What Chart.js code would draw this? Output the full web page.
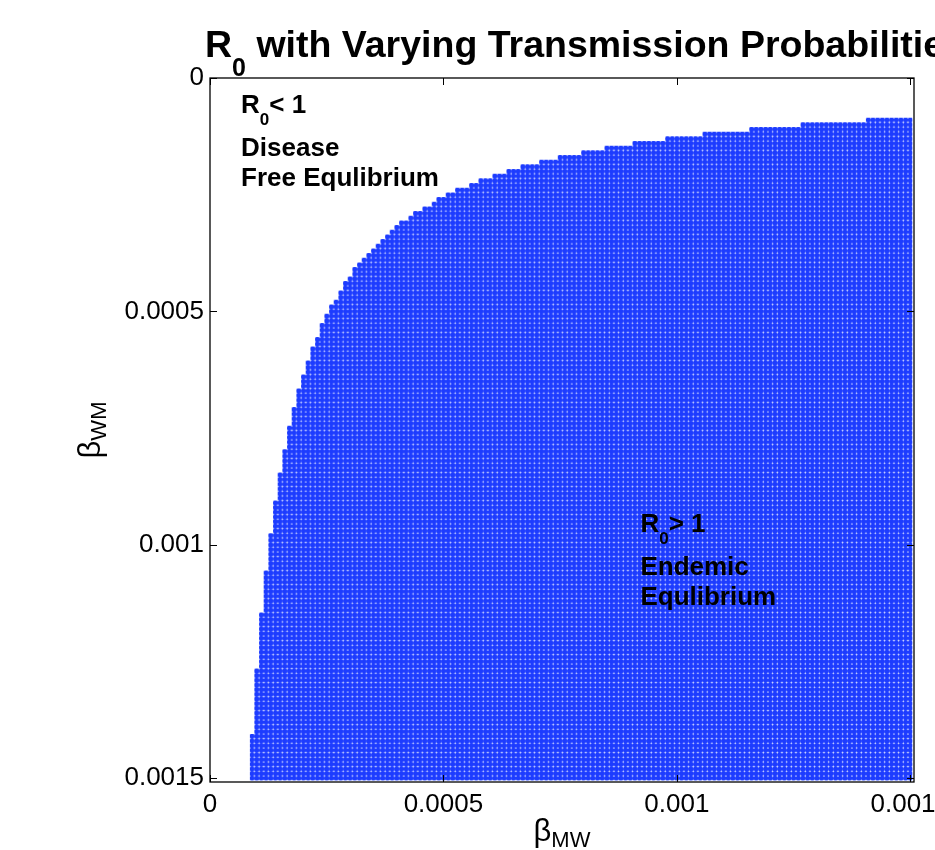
<!DOCTYPE html>
<html>
<head>
<meta charset="utf-8">
<script src="https://cdn.jsdelivr.net/npm/chart.js@4.4.1/dist/chart.umd.min.js"></script>
<style>
  html, body { margin: 0; padding: 0; background: #fff; }
  canvas { display: block; }
</style>
</head>
<body>
<canvas id="r0Chart" width="935" height="850"></canvas>
<script>
// each entry: first beta_MW column of a step, and the smallest beta_WM with R0 > 1 in it
var betaMW = [0.00009, 0.0001, 0.00011, 0.00012, 0.00013, 0.00014, 0.00015, 0.00016, 0.00017, 0.00018,
  0.00019, 0.0002, 0.00021, 0.00022, 0.00023, 0.00024, 0.00025, 0.00026, 0.00027, 0.00028,
  0.00029, 0.0003, 0.00031, 0.00032, 0.00033, 0.00034, 0.00035, 0.00036, 0.00037, 0.00038,
  0.00039, 0.0004, 0.00041, 0.00043, 0.00044, 0.00046, 0.00048, 0.00049, 0.00051, 0.00053,
  0.00056, 0.00058, 0.00061, 0.00064, 0.00067, 0.00071, 0.00075, 0.0008, 0.00085, 0.00091,
  0.00098, 0.00106, 0.00116, 0.00127, 0.00141];
var betaWMmin = [0.00141, 0.00127, 0.00115, 0.00106, 0.00098, 0.00091, 0.00085, 0.0008, 0.00075, 0.00071,
  0.00067, 0.00064, 0.00061, 0.00058, 0.00056, 0.00053, 0.00051, 0.00049, 0.00048, 0.00046,
  0.00044, 0.00043, 0.00041, 0.0004, 0.00039, 0.00038, 0.00037, 0.00036, 0.00035, 0.00034,
  0.00033, 0.00032, 0.00031, 0.0003, 0.00029, 0.00028, 0.00027, 0.00026, 0.00025, 0.00024,
  0.00023, 0.00022, 0.00021, 0.0002, 0.00019, 0.00018, 0.00017, 0.00016, 0.00015, 0.00014,
  0.00013, 0.00012, 0.00011, 0.0001, 0.00009];
var gridStep = 0.00001;
var betaMax = 0.0015;

var xTicks = [0, 0.0005, 0.001, 0.0015];
var xTickLabels = ['0', '0.0005', '0.001', '0.0015'];
var yTicks = [0, 0.0005, 0.001, 0.0015];
var yTickLabels = ['0', '0.0005', '0.001', '0.0015'];

var FONT = "'Liberation Sans', Arial, Helvetica, sans-serif";

// stepped outline of the R0 > 1 region, cell edges half a grid step off the points
var outline = [];
for (var i = 0; i < betaMW.length; i++) {
  outline.push({ x: betaMW[i] - gridStep / 2, y: betaWMmin[i] - gridStep / 2 });
}
outline.push({ x: betaMax + gridStep / 2, y: betaWMmin[betaWMmin.length - 1] - gridStep / 2 });

// dotted blue fill like the matlab markers
var tile = document.createElement('canvas');
tile.width = 14;
tile.height = 14;
var tctx = tile.getContext('2d');
tctx.fillStyle = '#e4e9ff';
tctx.fillRect(0, 0, 14, 14);
tctx.fillStyle = '#1d3cff';
for (var a = 0; a < 3; a++) {
  for (var b = 0; b < 3; b++) {
    tctx.beginPath();
    tctx.arc(a * 14 / 3 + 7 / 3, b * 14 / 3 + 7 / 3, 2.55, 0, Math.PI * 2);
    tctx.fill();
  }
}
var dotPattern = tctx.createPattern(tile, 'repeat');

function drawParts(ctx, x, y, parts) {
  parts.forEach(function (p) {
    ctx.font = p.font;
    ctx.fillText(p.text, x, y + (p.dy || 0));
    x += ctx.measureText(p.text).width;
  });
}

function partsWidth(ctx, parts) {
  var w = 0;
  parts.forEach(function (p) { ctx.font = p.font; w += ctx.measureText(p.text).width; });
  return w;
}

var decorations = {
  id: 'decorations',
  beforeDatasetsDraw: function (chart) {
    var xs = chart.scales.x, ys = chart.scales.y;
    var cell = xs.getPixelForValue(gridStep) - xs.getPixelForValue(0);
    var s = cell * 3 / 14;
    dotPattern.setTransform(new DOMMatrix([s, 0, 0, s,
      xs.getPixelForValue(-gridStep / 2), ys.getPixelForValue(-gridStep / 2)]));
  },
  afterDraw: function (chart) {
    var ctx = chart.ctx, area = chart.chartArea;
    var xs = chart.scales.x, ys = chart.scales.y;
    ctx.save();

    // box + inward ticks
    ctx.strokeStyle = '#000';
    ctx.lineWidth = 1.3;
    ctx.strokeRect(area.left, area.top, area.right - area.left, area.bottom - area.top);
    ctx.lineWidth = 1;
    ctx.beginPath();
    xTicks.forEach(function (v) {
      var px = Math.round(xs.getPixelForValue(v)) + 0.5;
      ctx.moveTo(px, area.bottom); ctx.lineTo(px, area.bottom - 7);
      ctx.moveTo(px, area.top); ctx.lineTo(px, area.top + 7);
    });
    yTicks.forEach(function (v) {
      var py = Math.round(ys.getPixelForValue(v)) + 0.5;
      ctx.moveTo(area.left, py); ctx.lineTo(area.left + 7, py);
      ctx.moveTo(area.right, py); ctx.lineTo(area.right - 7, py);
    });
    ctx.stroke();

    ctx.fillStyle = '#000';
    ctx.textAlign = 'left';
    ctx.textBaseline = 'alphabetic';

    // title
    drawParts(ctx, 205, 57, [
      { text: 'R', font: 'bold 37.5px ' + FONT },
      { text: '0', font: 'bold 25px ' + FONT, dy: 19 },
      { text: ' with Varying Transmission Probabilities', font: 'bold 37.5px ' + FONT }
    ]);

    // region notes
    var bold = 'bold 26px ' + FONT, sub = 'bold 17px ' + FONT;
    var x1 = xs.getPixelForValue(0.0000665), y1 = ys.getPixelForValue(0.000075);
    drawParts(ctx, x1, y1, [{ text: 'R', font: bold }, { text: '0', font: sub, dy: 12 }, { text: '< 1', font: bold }]);
    drawParts(ctx, x1, y1 + 43, [{ text: 'Disease', font: bold }]);
    drawParts(ctx, x1, y1 + 73, [{ text: 'Free Equlibrium', font: bold }]);
    var x2 = xs.getPixelForValue(0.000922), y2 = ys.getPixelForValue(0.000973);
    drawParts(ctx, x2, y2, [{ text: 'R', font: bold }, { text: '0', font: sub, dy: 12 }, { text: '> 1', font: bold }]);
    drawParts(ctx, x2, y2 + 43, [{ text: 'Endemic', font: bold }]);
    drawParts(ctx, x2, y2 + 73, [{ text: 'Equlibrium', font: bold }]);

    // axis titles
    var xl = [{ text: 'β', font: '31px ' + FONT }, { text: 'MW', font: '22px ' + FONT, dy: 6 }];
    var cx = (area.left + area.right) / 2;
    drawParts(ctx, cx - partsWidth(ctx, xl) / 2, 841, xl);
    var yl = [{ text: 'β', font: '31px ' + FONT }, { text: 'WM', font: '22px ' + FONT, dy: 6 }];
    ctx.translate(100, (area.top + area.bottom) / 2);
    ctx.rotate(-Math.PI / 2);
    drawParts(ctx, -partsWidth(ctx, yl) / 2, 0, yl);
    ctx.restore();
  }
};

var ctx = document.getElementById('r0Chart').getContext('2d');
var r0Chart = new Chart(ctx, {
  type: 'line',
  data: {
    datasets: [{
      label: 'R0 > 1',
      data: outline,
      stepped: 'before',
      borderColor: 'rgba(0,0,0,0)',
      borderWidth: 1,
      pointRadius: 0,
      backgroundColor: dotPattern,
      fill: { value: betaMax + gridStep / 2 }
    }]
  },
  options: {
    responsive: false,
    animation: false,
    devicePixelRatio: 1,
    layout: { padding: { top: 78, right: 21, left: 0, bottom: 0 } },
    plugins: { legend: { display: false }, tooltip: { enabled: false } },
    scales: {
      x: {
        type: 'linear',
        min: 0,
        max: 0.001508,
        grid: { display: false, drawTicks: false },
        border: { display: false },
        afterBuildTicks: function (scale) {
          scale.ticks = xTicks.map(function (v) { return { value: v }; });
        },
        afterFit: function (scale) {
          scale.height = 68;
          scale.paddingLeft = 0;
          scale.paddingRight = 0;
        },
        ticks: {
          color: '#000',
          padding: 7,
          maxRotation: 0,
          autoSkip: false,
          font: { family: FONT, size: 26 },
          callback: function (value, index) { return xTickLabels[index]; }
        }
      },
      y: {
        type: 'linear',
        reverse: true,
        min: 0,
        max: 0.001508,
        grid: { display: false, drawTicks: false },
        border: { display: false },
        afterBuildTicks: function (scale) {
          scale.ticks = yTicks.map(function (v) { return { value: v }; });
        },
        afterFit: function (scale) {
          scale.width = 210;
          scale.paddingTop = 0;
          scale.paddingBottom = 0;
        },
        ticks: {
          color: '#000',
          padding: 6,
          autoSkip: false,
          font: { family: FONT, size: 26 },
          callback: function (value, index) { return yTickLabels[index]; }
        }
      }
    }
  },
  plugins: [decorations]
});
</script>
</body>
</html>
